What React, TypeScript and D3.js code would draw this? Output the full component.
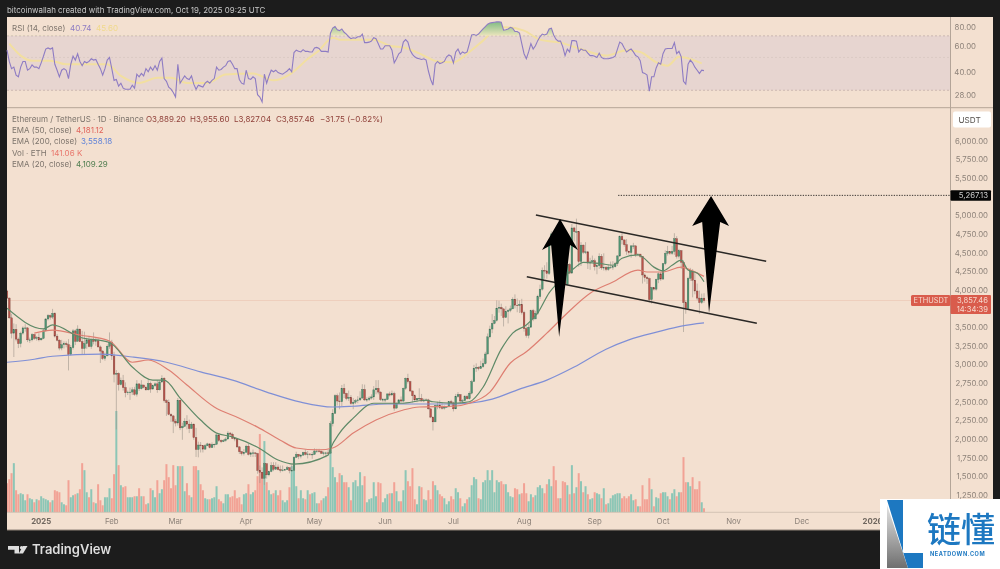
import React, { useEffect, useRef } from "react";
import * as d3 from "d3";

// days are counted from 2025-01-01, the first candle is Dec 17 2024
const firstDay = -15;
const firstOpen = 3985;

const closes = [
  3890, 3625, 3420, 3470, 3340, 3280, 3420, 3490, 3490, 3330, 3330, 3400, 3350, 3360, 3330,
  // jan
  3350, 3450, 3610, 3655, 3635, 3685, 3380, 3325, 3220, 3265, 3280, 3265, 3135, 3225, 3450, 3310, 3475, 3305, 3215, 3280, 3330, 3240, 3340, 3310, 3320, 3235, 3180, 3080, 3115, 3245, 3300,
  // feb
  3115, 2870, 2880, 2730, 2785, 2690, 2620, 2630, 2630, 2660, 2600, 2740, 2675, 2725, 2695, 2660, 2745, 2670, 2715, 2740, 2660, 2765, 2815, 2515, 2490, 2330, 2310, 2240,
  // mar
  2215, 2520, 2150, 2170, 2240, 2200, 2140, 2200, 2020, 1860, 1920, 1910, 1865, 1910, 1935, 1885, 1925, 1930, 2055, 1980, 1965, 1980, 2000, 2080, 2065, 2010, 2000, 1895, 1830, 1805, 1822,
  // apr
  1905, 1795, 1815, 1815, 1805, 1580, 1555, 1475, 1670, 1520, 1565, 1645, 1595, 1625, 1590, 1580, 1585, 1590, 1615, 1580, 1580, 1755, 1795, 1770, 1785, 1820, 1795, 1800, 1795, 1795,
  // may
  1840, 1840, 1835, 1810, 1815, 1815, 1810, 2205, 2345, 2580, 2510, 2500, 2680, 2610, 2545, 2560, 2475, 2495, 2515, 2525, 2550, 2665, 2525, 2530, 2550, 2565, 2660, 2680, 2630, 2530, 2530,
  // jun
  2530, 2605, 2590, 2610, 2415, 2480, 2525, 2510, 2680, 2815, 2770, 2645, 2580, 2525, 2545, 2545, 2510, 2525, 2525, 2405, 2295, 2230, 2450, 2455, 2420, 2415, 2425, 2435, 2500, 2485,
  // jul
  2405, 2570, 2595, 2510, 2515, 2570, 2540, 2615, 2770, 2950, 2960, 2945, 2970, 3010, 3140, 3370, 3475, 3550, 3590, 3755, 3765, 3745, 3630, 3710, 3725, 3745, 3875, 3795, 3790, 3805, 3695,
  // aug
  3480, 3390, 3500, 3720, 3610, 3685, 3910, 4010, 4260, 4255, 4220, 4600, 4750, 4550, 4440, 4430, 4475, 4310, 4075, 4340, 4225, 4830, 4780, 4780, 4380, 4600, 4505, 4510, 4360, 4375, 4390,
  // sep
  4310, 4325, 4450, 4295, 4300, 4275, 4305, 4305, 4310, 4350, 4455, 4715, 4670, 4605, 4520, 4500, 4590, 4590, 4470, 4480, 4450, 4200, 4165, 4150, 3870, 4030, 4010, 4140, 4215, 4145,
  // oct
  4350, 4490, 4515, 4490, 4515, 4685, 4450, 4525, 4370, 3830, 3750, 4155, 4250, 4130, 3985, 3890, 3830, 3889.2, 3857.46,
];

const highs = [
  4000, 3900, 3680, 3550, 3540, 3360, 3440, 3510, 3540, 3500, 3360, 3420, 3410, 3380, 3420,
  3360, 3480, 3620, 3675, 3670, 3745, 3700, 3410, 3340, 3330, 3310, 3310, 3340, 3260, 3475, 3470, 3525, 3450, 3450, 3440, 3360, 3370, 3345, 3430, 3365, 3350, 3255, 3190, 3160, 3270, 3430,
  3330, 3170, 2925, 2895, 2825, 2860, 2760, 2650, 2690, 2695, 2700, 2790, 2740, 2790, 2720, 2715, 2790, 2770, 2730, 2760, 2790, 2785, 2855, 2830, 2535, 2530, 2345, 2320,
  2270, 2550, 2520, 2220, 2280, 2320, 2260, 2230, 2210, 2150, 1965, 1960, 1920, 1935, 1950, 1940, 1955, 1940, 2065, 2070, 1995, 2000, 2025, 2105, 2095, 2085, 2025, 2000, 1905, 1840, 1865,
  1925, 1940, 1830, 1860, 1820, 1815, 1645, 1620, 1690, 1670, 1575, 1690, 1690, 1690, 1660, 1645, 1645, 1600, 1640, 1620, 1660, 1770, 1830, 1800, 1800, 1830, 1860, 1840, 1810, 1825,
  1875, 1870, 1870, 1845, 1835, 1830, 1860, 2240, 2400, 2600, 2610, 2625, 2725, 2740, 2620, 2650, 2590, 2550, 2535, 2575, 2640, 2735, 2730, 2560, 2575, 2600, 2710, 2790, 2790, 2640, 2550,
  2550, 2610, 2635, 2650, 2635, 2490, 2535, 2570, 2690, 2825, 2875, 2780, 2645, 2600, 2550, 2680, 2605, 2545, 2545, 2540, 2410, 2300, 2460, 2500, 2520, 2490, 2450, 2440, 2510, 2525,
  2500, 2605, 2630, 2600, 2535, 2590, 2595, 2640, 2795, 2995, 3015, 2975, 3050, 3080, 3170, 3415, 3520, 3675, 3650, 3860, 3855, 3815, 3750, 3780, 3745, 3790, 3900, 3940, 3885, 3860, 3880,
  3720, 3510, 3540, 3735, 3745, 3720, 3935, 4070, 4300, 4330, 4370, 4630, 4785, 4790, 4670, 4480, 4510, 4480, 4320, 4380, 4360, 4885, 4845, 4955, 4780, 4640, 4610, 4640, 4520, 4430, 4460,
  4420, 4370, 4490, 4480, 4490, 4320, 4340, 4380, 4385, 4375, 4465, 4730, 4770, 4670, 4680, 4520, 4600, 4630, 4595, 4490, 4480, 4450, 4220, 4190, 4165, 4040, 4020, 4150, 4235, 4240,
  4360, 4530, 4590, 4520, 4590, 4760, 4720, 4550, 4530, 4395, 3860, 4175, 4295, 4280, 4230, 4085, 3990, 3950, 3955.6,
];

const lows = [
  3880, 3610, 3350, 3100, 3310, 3220, 3230, 3400, 3440, 3300, 3290, 3310, 3330, 3320, 3310,
  3320, 3340, 3440, 3590, 3600, 3610, 3360, 3310, 3190, 3190, 3215, 3230, 2920, 3120, 3200, 3260, 3310, 3300, 3140, 3140, 3210, 3230, 3210, 3270, 3250, 3230, 3020, 3060, 3050, 3110, 3210,
  3060, 2760, 2130, 2650, 2720, 2650, 2560, 2590, 2525, 2590, 2580, 2570, 2645, 2665, 2680, 2645, 2650, 2620, 2670, 2700, 2620, 2650, 2755, 2490, 2310, 2320, 2230, 2080,
  2170, 2180, 2120, 1990, 2165, 2130, 2080, 2170, 1990, 1760, 1755, 1820, 1820, 1860, 1905, 1875, 1885, 1885, 1925, 1960, 1945, 1960, 1965, 2000, 2030, 2000, 1970, 1880, 1800, 1780, 1780,
  1820, 1780, 1760, 1760, 1760, 1535, 1410, 1470, 1385, 1470, 1500, 1555, 1570, 1590, 1580, 1550, 1565, 1580, 1585, 1540, 1560, 1570, 1745, 1730, 1740, 1775, 1780, 1740, 1780, 1735,
  1790, 1815, 1820, 1800, 1780, 1755, 1790, 1805, 2170, 2340, 2450, 2400, 2440, 2550, 2520, 2510, 2460, 2400, 2470, 2480, 2510, 2540, 2510, 2500, 2510, 2530, 2525, 2600, 2600, 2510, 2500,
  2495, 2530, 2570, 2590, 2380, 2410, 2470, 2490, 2490, 2660, 2745, 2630, 2490, 2500, 2495, 2510, 2505, 2495, 2510, 2395, 2280, 2115, 2230, 2400, 2400, 2395, 2395, 2420, 2425, 2445,
  2370, 2400, 2555, 2475, 2480, 2510, 2530, 2530, 2600, 2765, 2900, 2920, 2945, 2955, 3000, 3140, 3350, 3420, 3540, 3575, 3695, 3650, 3510, 3625, 3550, 3700, 3745, 3750, 3700, 3690, 3670,
  3440, 3360, 3350, 3490, 3580, 3610, 3665, 3880, 3990, 4150, 4150, 4200, 4590, 4440, 4355, 4380, 4360, 4220, 4065, 4060, 4210, 4220, 4650, 4540, 4310, 4320, 4480, 4480, 4280, 4270, 4370,
  4260, 4210, 4280, 4270, 4260, 4250, 4255, 4280, 4270, 4300, 4320, 4440, 4610, 4580, 4470, 4470, 4430, 4550, 4440, 4450, 4430, 4085, 4110, 4080, 3830, 3815, 3990, 3990, 4090, 4120,
  4140, 4330, 4460, 4470, 4470, 4470, 4420, 4420, 4280, 3435, 3680, 3740, 4120, 3900, 3940, 3860, 3680, 3810, 3827.04,
];

// volume in thousands of ETH
const volumes = [
  1015, 1155, 1365, 1715, 770, 630, 665, 630, 420, 630,
  490, 455, 350, 455, 420, 560, 490, 455, 420, 350,
  420, 770, 735, 700, 350, 280, 245, 1120, 525, 595,
  630, 665, 805, 1715, 1470, 700, 525, 805, 350, 315,
  980, 420, 245, 525, 525, 840, 490, 1330, 3535, 1645,
  945, 875, 910, 525, 525, 525, 560, 560, 840, 560,
  560, 280, 315, 840, 770, 525, 1120, 665, 805, 1120,
  1680, 1225, 840, 1645, 945, 1610, 1610, 1610, 735, 1015,
  595, 525, 1610, 1610, 1470, 980, 770, 490, 455, 455,
  490, 525, 910, 455, 385, 315, 630, 630, 525, 560,
  770, 490, 525, 280, 630, 665, 980, 630, 700, 770,
  1260, 2730, 1400, 2485, 1050, 770, 630, 665, 770, 595,
  770, 420, 350, 420, 875, 1610, 1470, 910, 490, 770,
  490, 455, 770, 630, 665, 700, 315, 315, 420, 490,
  560, 875, 2100, 1575, 1225, 1050, 1365, 1295, 1050, 1050,
  875, 420, 1050, 1120, 910, 1400, 945, 1260, 350, 455,
  490, 1050, 560, 1050, 1015, 350, 490, 630, 665, 665,
  1050, 735, 385, 385, 770, 1470, 1085, 910, 1540, 455,
  280, 910, 875, 455, 420, 770, 455, 1085, 945, 770,
  630, 560, 490, 280, 385, 560, 455, 840, 700, 490,
  210, 315, 455, 525, 945, 1225, 1155, 490, 455, 1050,
  1120, 1470, 1120, 1470, 700, 1120, 1050, 1085, 980, 980,
  700, 560, 525, 840, 805, 630, 665, 1015, 665, 385,
  630, 525, 595, 875, 945, 840, 665, 980, 1155, 910,
  1610, 1120, 490, 490, 1085, 1050, 945, 630, 1645, 665,
  875, 1365, 1085, 700, 910, 630, 455, 490, 700, 665,
  630, 490, 840, 280, 315, 490, 595, 630, 665, 665,
  490, 560, 490, 560, 630, 420, 455, 210, 210, 945,
  455, 455, 1190, 805, 210, 525, 490, 665, 700, 700,
  560, 455, 665, 805, 560, 700, 700, 1925, 1050, 1050,
  910, 1225, 805, 805, 1085, 350, 141,
];

const rsiValues = [
  56, 47, 42, 43, 38, 37, 43, 47, 47, 41,
  42, 44.5, 43, 43, 42, 46, 51, 57, 58, 57,
  58, 45, 41, 37, 41, 42, 41, 36, 45, 51,
  48, 53, 47, 44, 47, 46, 47, 49, 48, 48.5,
  45, 42, 38, 42, 48, 50, 42, 35, 35.5, 32,
  33.5, 31, 30.5, 30.5, 30.5, 32.5, 31, 38.5, 37, 39,
  37.5, 42, 40, 43, 41, 44, 41, 47, 49.5, 36,
  34.5, 31.5, 30.5, 29, 27, 45, 33.5, 35.5, 37.5, 36,
  35.5, 37.5, 33, 30.5, 32.5, 32, 31.5, 33.5, 34.5, 33.5,
  35, 36, 43, 41, 41.5, 43, 44, 47, 47.5, 45,
  42, 42, 35.5, 33.5, 33, 41, 36, 35.5, 37, 36,
  28, 27, 25, 38.5, 33.5, 37.5, 41, 40, 41, 39.5,
  39, 38.5, 39.5, 40.5, 42, 40, 54, 56, 55, 54.5,
  56.5, 55, 55, 54.5, 54.5, 58, 58.5, 57.5, 55, 55,
  55, 54.5, 73, 79, 81, 77, 76, 78, 74, 72,
  69, 67, 68, 67.5, 69, 69, 72, 63, 63, 63.5,
  64.5, 68, 67, 62, 57, 57, 60, 60, 60, 56,
  46, 49, 53, 54.5, 63.5, 66, 63.5, 56, 52.5, 50.5,
  49.5, 49, 48.5, 49, 48, 40.5, 35.5, 32.5, 45, 47,
  45.5, 46, 47, 50.5, 52, 51, 46, 54.5, 57, 52.5,
  54.5, 53.5, 54.5, 62, 71, 71.5, 70.5, 72, 75, 78,
  81, 84, 85.5, 86, 86.5, 87, 87, 86.5, 76.5, 77,
  78, 80, 79, 75, 75, 73, 62, 53, 49, 54.5,
  62, 57, 60, 65, 69, 72, 71, 72, 78, 79,
  71, 66.5, 64.5, 64.5, 59, 51.5, 57, 54.5, 65, 65,
  64.5, 54.5, 57, 56, 56, 53.5, 51.5, 51.5, 51, 50,
  53.5, 50, 49, 49, 49, 49.5, 50, 51, 57, 63.5,
  62, 58, 54.5, 56, 57, 54.5, 51.5, 50.5, 47.5, 39.5,
  39, 38, 29.6, 37, 37, 42.5, 46, 45, 53, 57,
  57.5, 57.5, 57.5, 63, 53, 55, 50.5, 34.5, 33, 45,
  48, 46, 43, 41, 39, 41, 40.74,
];

// rsi moving average, read at a few days only
const rsiMaDays = [-14, -9, -4, 4, 11, 20, 29, 35, 43, 51, 57, 64, 73, 81, 93, 102, 109, 117, 122, 128, 131, 146, 153, 160, 168, 174, 181, 187, 194, 201, 204, 212, 219, 228, 237, 248, 257, 263, 270, 275, 280, 290];
const rsiMaValues = [62, 51.5, 47.6, 47.6, 45, 45, 45, 37.5, 33.6, 36.4, 36.4, 33.6, 33.6, 38.3, 39, 35, 38.3, 48.8, 55.8, 68, 66, 66, 60, 58, 51.5, 47, 46.5, 53, 65, 80, 80, 76, 66, 63, 57, 51.5, 56, 54.5, 46.5, 44, 50.5, 45.6];

const ema20Days = [-15, 1, 5, 17, 30, 40, 49, 54, 61, 70, 77, 84, 95, 104, 111, 126, 127, 131, 137, 146, 158, 169, 172, 181, 188, 194, 202, 207, 213, 218, 223, 228, 234, 238, 245, 251, 255, 262, 264, 269, 273, 277, 281, 284, 288, 291];
const ema20Values = [3753, 3478, 3530, 3365, 3295, 2965, 2790, 2790, 2550, 2255, 2080, 2030, 1890, 1720, 1665, 1785, 1870, 2080, 2280, 2480, 2480, 2520, 2500, 2480, 2500, 2695, 3205, 3420, 3530, 3690, 3960, 4130, 4290, 4370, 4355, 4330, 4425, 4470, 4440, 4305, 4255, 4330, 4400, 4265, 4225, 4109.29];

const ema50Days = [-3, 5, 17, 30, 40, 47, 56, 64, 76, 87, 95, 105, 112, 122, 128, 137, 147, 159, 166, 181, 188, 197, 206, 213, 222, 231, 241, 251, 262, 266, 273, 281, 286, 291];
const ema50Values = [3420, 3460, 3395, 3315, 3030, 3060, 2925, 2725, 2430, 2280, 2160, 1985, 1880, 1855, 1880, 2080, 2255, 2390, 2430, 2440, 2480, 2630, 3020, 3170, 3420, 3690, 3955, 4105, 4265, 4240, 4240, 4305, 4255, 4181.12];

const ema200Days = [-15, -3, 5, 26, 40, 55, 70, 84, 99, 114, 128, 137, 152, 166, 181, 188, 198, 210, 222, 234, 248, 258, 271, 281, 291];
const ema200Values = [3030, 3070, 3110, 3140, 3100, 3030, 2900, 2790, 2630, 2495, 2430, 2440, 2470, 2470, 2470, 2480, 2535, 2670, 2790, 2965, 3205, 3330, 3440, 3515, 3558.18];

const priceTicks = [6000, 5750, 5500, 5000, 4750, 4500, 4250, 4000, 3500, 3250, 3000, 2750, 2500, 2250, 2000, 1750, 1500, 1250];
const rsiTicks = [80, 60, 40, 28];
const monthDays = [0, 31, 59, 90, 120, 151, 181, 212, 243, 273, 304, 334, 365];
const monthLabels = ["2025", "Feb", "Mar", "Apr", "May", "Jun", "Jul", "Aug", "Sep", "Oct", "Nov", "Dec", "2026"];

// drawings on the chart, as [day, price]
const channelUpper = [[217.2, 5004], [318.3, 4383]];
const channelLower = [[213.2, 4177], [314.2, 3552]];
const arrowOne = [[227.8, 4950], [235.7, 4535], [232.2, 4602], [227.4, 3369], [223.9, 4602], [219.9, 4535]];
const arrowTwo = [[294.1, 5259], [302, 4857], [298.1, 4910], [293.2, 3690], [290.2, 4910], [285.8, 4857]];
const targetStartDay = 253.3;
const targetPrice = 5267.13;
const lastPrice = 3857.46;

const legendRows = [
  { name: "EMA (50, close)", value: "4,181.12", color: "#e0655c", dx: 76 },
  { name: "EMA (200, close)", value: "3,558.18", color: "#5f82d8", dx: 81 },
  { name: "Vol · ETH", value: "141.06 K", color: "#e8776c", dx: 51 },
  { name: "EMA (20, close)", value: "4,109.29", color: "#4f7d4f", dx: 76 },
];
const ohlcItems = [
  { text: "O3,889.20", x: 146 },
  { text: "H3,955.60", x: 190 },
  { text: "L3,827.04", x: 234 },
  { text: "C3,857.46", x: 276 },
  { text: "−31.75 (−0.82%)", x: 320 },
];

const W = 1000;
const H = 569;
const paneLeft = 7;
const paneRight = 993;
const axisX = 950.5;
const rsiTop = 17;
const mainTop = 107.7;
const volBase = 512.3;
const paneBottom = 530;
const bg = "#f3e0d0";
const fontFam = "Inter, 'Noto Sans', sans-serif";
const axisText = "#8d8279";
const legendText = "#7d746c";

export default function App() {
  const svgRef = useRef<SVGSVGElement>(null);

  useEffect(() => {
    const svg = d3.select(svgRef.current);
    svg.selectAll("*").remove();

    const x = d3.scaleLinear().domain([firstDay, 291]).range([paneLeft, 704]);
    const y = d3.scaleLinear().domain([6000, 1250]).range([140.7, 495]);
    const rsiY = d3.scaleLog().domain([80, 28]).range([27.3, 94.7]);
    const volY = d3.scaleLinear().domain([0, 3535]).range([volBase, 411]);

    const defs = svg.append("defs");
    defs.append("clipPath").attr("id", "mainClip").append("rect")
      .attr("x", paneLeft).attr("y", mainTop).attr("width", axisX - paneLeft).attr("height", volBase - mainTop);
    defs.append("clipPath").attr("id", "over70").append("rect")
      .attr("x", paneLeft).attr("y", rsiTop).attr("width", axisX - paneLeft).attr("height", rsiY(70) - rsiTop);
    const grad = defs.append("linearGradient").attr("id", "rsiGreen").attr("gradientUnits", "userSpaceOnUse")
      .attr("x1", 0).attr("x2", 0).attr("y1", 20).attr("y2", rsiY(70));
    grad.append("stop").attr("offset", "0%").attr("stop-color", "#74b67c");
    grad.append("stop").attr("offset", "100%").attr("stop-color", "#ece5bd");
    const wmGrad = defs.append("linearGradient").attr("id", "wmGrey").attr("x1", 0).attr("x2", 0).attr("y1", 0).attr("y2", 1);
    wmGrad.append("stop").attr("offset", "0%").attr("stop-color", "#e4e4e4");
    wmGrad.append("stop").attr("offset", "100%").attr("stop-color", "#6f6f6f");

    // frame
    svg.append("rect").attr("width", W).attr("height", H).attr("fill", "#1c1c1c");
    svg.append("rect").attr("x", paneLeft).attr("y", rsiTop).attr("width", paneRight - paneLeft).attr("height", paneBottom - rsiTop).attr("fill", bg);

    svg.append("text").text("bitcoinwallah created with TradingView.com, Oct 19, 2025 09:25 UTC")
      .attr("x", 7).attr("y", 12.5).attr("fill", "#c8c8c8").attr("font-size", 7.9).attr("font-family", fontFam);

    // rsi pane
    svg.append("rect").attr("x", paneLeft).attr("y", rsiY(70)).attr("width", axisX - paneLeft).attr("height", rsiY(30) - rsiY(70)).attr("fill", "#e7d5d0");
    [70, 50, 30].forEach((v) => {
      svg.append("line").attr("x1", paneLeft).attr("x2", axisX).attr("y1", rsiY(v)).attr("y2", rsiY(v))
        .attr("stroke", v === 50 ? "#d8c6c0" : "#bda9a3").attr("stroke-width", 0.7).attr("stroke-dasharray", "2 2");
    });
    const rsiDays = rsiValues.map((_, i) => firstDay + i);
    const maLine = d3.line<number>().x((d) => x(d)).y((_, i) => rsiY(rsiMaValues[i])).curve(d3.curveMonotoneX);
    svg.append("path").attr("d", maLine(rsiMaDays)).attr("fill", "none").attr("stroke", "#f2dfa0").attr("stroke-width", 2);
    const rsiArea = d3.area<number>().x((d) => x(d)).y0(rsiY(70)).y1((_, i) => rsiY(rsiValues[i]));
    svg.append("path").attr("d", rsiArea(rsiDays)).attr("fill", "url(#rsiGreen)").attr("clip-path", "url(#over70)");
    const rsiLine = d3.line<number>().x((d) => x(d)).y((_, i) => rsiY(rsiValues[i]));
    svg.append("path").attr("d", rsiLine(rsiDays)).attr("fill", "none").attr("stroke", "#8e7cc3").attr("stroke-width", 1.1);

    svg.append("text").text("RSI (14, close)").attr("x", 12).attr("y", 31).attr("fill", legendText).attr("font-size", 8).attr("font-family", fontFam);
    svg.append("text").text("40.74").attr("x", 70).attr("y", 31).attr("fill", "#8e7cc3").attr("font-size", 8).attr("font-family", fontFam);
    svg.append("text").text("45.60").attr("x", 96).attr("y", 31).attr("fill", "#f0d98a").attr("font-size", 8).attr("font-family", fontFam);

    // main pane
    svg.append("line").attr("x1", paneLeft).attr("x2", axisX).attr("y1", y(lastPrice)).attr("y2", y(lastPrice)).attr("stroke", "#eccab8").attr("stroke-width", 0.8);

    const main = svg.append("g").attr("clip-path", "url(#mainClip)");

    // volume under everything
    const dirUp = closes.map((c, i) => c >= (i === 0 ? firstOpen : closes[i - 1]));
    main.append("g").selectAll("rect").data(volumes).join("rect")
      .attr("x", (_, i) => x(firstDay + i) - 1)
      .attr("width", 2)
      .attr("y", (d) => volY(d))
      .attr("height", (d) => volBase - volY(d))
      .attr("fill", (_, i) => (dirUp[i] ? "#8cc6b6" : "#f2a295"));

    // candles
    const candles = main.append("g");
    closes.forEach((c, i) => {
      const open = i === 0 ? firstOpen : closes[i - 1];
      const cx = x(firstDay + i);
      candles.append("line").attr("x1", cx).attr("x2", cx).attr("y1", y(highs[i])).attr("y2", y(lows[i]))
        .attr("stroke", "#9d968b").attr("stroke-width", 0.6);
      candles.append("rect").attr("x", cx - 0.85).attr("width", 1.7)
        .attr("y", y(Math.max(open, c)))
        .attr("height", Math.max(0.6, Math.abs(y(open) - y(c))))
        .attr("fill", dirUp[i] ? "#4f9473" : "#b9544b")
        .attr("stroke", dirUp[i] ? "#3f6b55" : "#74403a")
        .attr("stroke-width", 0.35);
    });

    // emas
    const drawEma = (days: number[], vals: number[], color: string) => {
      const line = d3.line<number>().x((d) => x(d)).y((_, i) => y(vals[i])).curve(d3.curveMonotoneX);
      main.append("path").attr("d", line(days)).attr("fill", "none").attr("stroke", color).attr("stroke-width", 1.2);
    };
    drawEma(ema200Days, ema200Values, "#7f8fd6");
    drawEma(ema50Days, ema50Values, "#de7f72");
    drawEma(ema20Days, ema20Values, "#5f8a68");

    // channel, target and arrows
    const toXY = (p: number[]) => [x(p[0]), y(p[1])] as [number, number];
    [channelUpper, channelLower].forEach((seg) => {
      main.append("path").attr("d", d3.line()(seg.map(toXY))).attr("stroke", "#2a2825").attr("stroke-width", 1.5).attr("fill", "none");
    });
    main.append("line").attr("x1", x(targetStartDay)).attr("x2", axisX).attr("y1", y(targetPrice)).attr("y2", y(targetPrice))
      .attr("stroke", "#3a3632").attr("stroke-width", 1).attr("stroke-dasharray", "1.3 1.3");
    [arrowOne, arrowTwo].forEach((shape) => {
      main.append("polygon").attr("points", shape.map((p) => toXY(p).join(",")).join(" ")).attr("fill", "#000");
    });

    // legend
    svg.append("text").text("Ethereum / TetherUS · 1D · Binance").attr("x", 12).attr("y", 121.5).attr("fill", legendText).attr("font-size", 8).attr("font-family", fontFam);
    ohlcItems.forEach((o) => {
      svg.append("text").text(o.text).attr("x", o.x).attr("y", 121.5).attr("fill", "#8f3f38").attr("font-size", 8).attr("font-family", fontFam);
    });
    legendRows.forEach((r, i) => {
      const ly = 133 + i * 11.4;
      svg.append("text").text(r.name).attr("x", 12).attr("y", ly).attr("fill", legendText).attr("font-size", 8).attr("font-family", fontFam);
      svg.append("text").text(r.value).attr("x", r.dx).attr("y", ly).attr("fill", r.color).attr("font-size", 8).attr("font-family", fontFam);
    });

    // right axis
    svg.append("line").attr("x1", axisX).attr("x2", axisX).attr("y1", rsiTop).attr("y2", paneBottom).attr("stroke", "#a39589").attr("stroke-width", 0.8);
    svg.append("g").selectAll("text").data(priceTicks).join("text")
      .text((d) => d3.format(",.2f")(d)).attr("x", 988).attr("y", (d) => y(d) + 3)
      .attr("text-anchor", "end").attr("fill", axisText).attr("font-size", 7.8).attr("font-family", fontFam);
    svg.append("g").selectAll("text").data(rsiTicks).join("text")
      .text((d) => d3.format(".2f")(d)).attr("x", 976).attr("y", (d) => rsiY(d) + 3)
      .attr("text-anchor", "end").attr("fill", axisText).attr("font-size", 7.8).attr("font-family", fontFam);

    svg.append("rect").attr("x", 953).attr("y", 111.5).attr("width", 38).attr("height", 16).attr("rx", 2).attr("fill", "#fff");
    svg.append("text").text("USDT").attr("x", 958.5).attr("y", 122.5).attr("fill", "#55504b").attr("font-size", 8.2).attr("font-family", fontFam);

    // tags
    svg.append("rect").attr("x", axisX).attr("y", y(targetPrice) - 5).attr("width", 40.5).attr("height", 10.5).attr("rx", 1).attr("fill", "#050505");
    svg.append("text").text("5,267.13").attr("x", 988).attr("y", y(targetPrice) + 3).attr("text-anchor", "end").attr("fill", "#cfcfcf").attr("font-size", 7.8).attr("font-family", fontFam);
    const tagY = y(lastPrice) - 5.5;
    svg.append("rect").attr("x", 911).attr("y", tagY).attr("width", 39.5).attr("height", 11).attr("rx", 1.5).attr("fill", "#d95c4c");
    svg.append("rect").attr("x", axisX).attr("y", tagY).attr("width", 40.5).attr("height", 19).attr("rx", 1).attr("fill", "#d95c4c");
    svg.append("text").text("ETHUSDT").attr("x", 913.5).attr("y", tagY + 8.2).attr("fill", "#f6d8cc").attr("font-size", 7.4).attr("font-family", fontFam);
    svg.append("text").text("3,857.46").attr("x", 988).attr("y", tagY + 8.2).attr("text-anchor", "end").attr("fill", "#f6d8cc").attr("font-size", 7.6).attr("font-family", fontFam);
    svg.append("text").text("14:34:39").attr("x", 988).attr("y", tagY + 16.5).attr("text-anchor", "end").attr("fill", "#f6d8cc").attr("font-size", 7.6).attr("font-family", fontFam);

    // separators and time axis
    svg.append("line").attr("x1", paneLeft).attr("x2", paneRight).attr("y1", mainTop).attr("y2", mainTop).attr("stroke", "#b5a597").attr("stroke-width", 1);
    svg.append("line").attr("x1", paneLeft).attr("x2", axisX).attr("y1", volBase).attr("y2", volBase).attr("stroke", "#cbbbad").attr("stroke-width", 0.8);
    svg.append("g").selectAll("text").data(monthDays).join("text")
      .text((_, i) => monthLabels[i]).attr("x", (d) => x(d)).attr("y", 524)
      .attr("text-anchor", "middle").attr("fill", (_, i) => (i === 0 || i === 12 ? "#6f665e" : axisText))
      .attr("font-weight", (_, i) => (i === 0 || i === 12 ? 700 : 400))
      .attr("font-size", 7.8).attr("font-family", fontFam);
    svg.append("line").attr("x1", paneLeft).attr("x2", paneRight).attr("y1", paneBottom).attr("y2", paneBottom).attr("stroke", "#8f8378").attr("stroke-width", 1);

    // footer logo
    const logo = svg.append("g").attr("fill", "#dedede");
    logo.append("polygon").attr("points", "8,546 19,546 19,553.5 14.5,553.5 14.5,549.8 8,549.8");
    logo.append("circle").attr("cx", 21.6).attr("cy", 547.8).attr("r", 1.7);
    logo.append("polygon").attr("points", "23,546 27.5,546 23,553.5 18.8,553.5");
    svg.append("text").text("TradingView").attr("x", 32).attr("y", 554).attr("fill", "#dedede").attr("font-size", 13).attr("font-weight", 600).attr("font-family", fontFam);

    // watermark box
    const wm = svg.append("g");
    wm.append("rect").attr("x", 880).attr("y", 499).attr("width", 120).attr("height", 70).attr("fill", "#fff");
    wm.append("polygon").attr("points", "887,568 887,505 908,568").attr("fill", "url(#wmGrey)");
    wm.append("polygon").attr("points", "887,500 903,500 903,553 923,553 923,568 908,568").attr("fill", "#1d78c1");
    wm.append("text").text("链懂").attr("x", 927).attr("y", 542).attr("fill", "#1d78c1").attr("font-size", 34).attr("font-weight", 500).attr("font-family", "'Noto Sans CJK SC'");
    wm.append("text").text("NEATDOWN.COM").attr("x", 930).attr("y", 555.5).attr("fill", "#1d78c1").attr("font-size", 5.6).attr("font-weight", 700).attr("letter-spacing", 0.55).attr("font-family", fontFam);
  }, []);

  // the reference is a soft upscaled screenshot, a small blur brings it closer
  return <svg ref={svgRef} width={W} height={H} style={{ position: "absolute", left: 0, top: 0, filter: "blur(0.35px)" }} />;
}
